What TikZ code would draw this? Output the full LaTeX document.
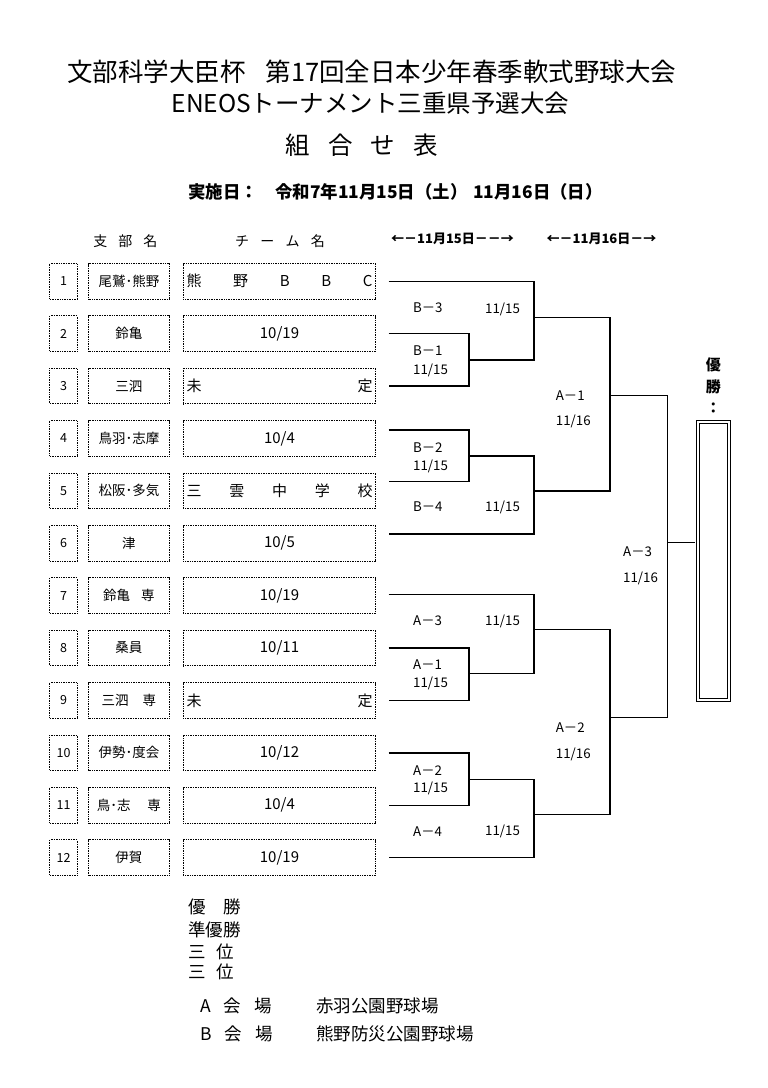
\documentclass[tikz,border=0pt]{standalone}
\usepackage{fontspec}
\setmainfont{Noto Sans CJK JP}
\usetikzlibrary{positioning}

\tikzset{
  feld/.style={draw, dash pattern=on 1pt off 0.7pt, line width=1pt, inner sep=0pt, minimum height=35.5pt},
  nrfeld/.style={feld, minimum width=27.3pt, font=\fontsize{12.5}{13}\selectfont},
  bzfeld/.style={feld, minimum width=80.3pt, font=\fontsize{13.5}{14}\selectfont},
  tmfeld/.style={feld, minimum width=192.4pt, font=\fontsize{15}{16}\selectfont},
  linie/.style={line width=1.3pt},
  spiel/.style={font=\fontsize{13.3}{14}\selectfont, inner sep=0pt, anchor=west},
  titel/.style={font=\fontsize{24.5}{25}\selectfont, inner sep=0pt},
  datum/.style={font=\bfseries\fontsize{17.4}{18}\selectfont, inner sep=0pt},
  kopf/.style={font=\fontsize{14}{14}\selectfont, inner sep=0pt},
  tag/.style={font=\bfseries\fontsize{13}{13}\selectfont, inner sep=0pt},
  fuss/.style={font=\fontsize{17.5}{17.5}\selectfont, inner sep=0pt, anchor=west},
}

\begin{document}
\begin{tikzpicture}[x=1pt,y=-1pt]
    \useasboundingbox (0,0) rectangle (768,1088);

    % Titel
    \node[titel, font=\fontsize{25.5}{26}\selectfont, anchor=west] (titel1) at (67,72) {文部科学大臣杯\hspace{20pt}第17回全日本少年春季軟式野球大会};
    \node[titel] (titel2) at (370.5,103) {ENEOSトーナメント三重県予選大会};
    \node[titel] (titel3) at (361.7,145) {組\hspace{18pt}合\hspace{18pt}せ\hspace{18pt}表};
    \node[datum, anchor=west] (datum1) at (188,191.5) {実施日：};
    \node[datum, anchor=east] (datum2) at (603,191.5) {令和7年11月15日（土）\hspace{6pt}11月16日（日）};

    % Spaltenkoepfe
    \node[kopf] (kopf1) at (125.3,240.7) {\hbox to 64pt{支\hfill 部\hfill 名}};
    \node[kopf] (kopf2) at (280,240.7) {\hbox to 90pt{チ\hfill ー\hfill ム\hfill 名}};
    \node[tag] (tag1) at (452.5,239) {←－11月15日－－→};
    \node[tag] (tag2) at (601.5,239) {←－11月16日－→};

    % Zeilen mit Nummer, Bezirk und Mannschaft
    \foreach \i/\dy/\bz/\tm in {
        1/0/{尾鷲･熊野}/{\hbox to 186pt{熊\hfill 野\hfill B\hfill B\hfill C}},
        2/0/{鈴亀}/{10/19},
        3/0/{三泗}/{\hbox to 186pt{未\hfill 定}},
        4/8.5/{鳥羽･志摩}/{10/4},
        5/9.2/{松阪･多気}/{\hbox to 186pt{三\hfill 雲\hfill 中\hfill 学\hfill 校}},
        6/9.2/{津}/{10/5},
        7/1/{鈴亀\hspace{11pt}専}/{10/19},
        8/0/{桑員}/{10/11},
        9/0/{三泗\hspace{14pt}専}/{\hbox to 186pt{未\hfill 定}},
        10/0/{伊勢･度会}/{10/12},
        11/0/{\hbox to 64pt{鳥･志\hfill 専}}/{10/4},
        12/0/{伊賀}/{10/19}} {
        \pgfmathsetmacro\y{281.25+(\i-1)*52.4}
        \node[nrfeld] (nr\i) at (63.6,\y) {\i};
        \node[bzfeld] (bz\i) at (128.9,\y) {\bz};
        \node[tmfeld] (tm\i) at (279.5,\y) {\tm};
        \coordinate (e\i) at ([xshift=12.3pt,yshift=\dy pt]tm\i.east);
    }

    % Verzweigungspunkte
    \coordinate (B1) at (469,360);
    \coordinate (B2) at (469,456);
    \coordinate (A1) at (469,673.7);
    \coordinate (A2) at (469,779.3);
    \coordinate (B3) at (534,317.7);
    \coordinate (B4) at (534,491);
    \coordinate (A3) at (534,629.7);
    \coordinate (A4) at (534,814.3);
    \coordinate (HF1) at (610,395.7);
    \coordinate (HF2) at (610,717.3);
    \coordinate (F) at (667.7,542.7);

    % Siegerfeld
    \node[draw, line width=1.1pt, double, double distance=1.6pt, minimum width=31.1pt, minimum height=277.9pt, inner sep=0pt] (sieger) at (713.35,560.85) {};
    \node[font=\bfseries\fontsize{15}{21.5}\selectfont, align=center, inner sep=0pt] (siegtext) at (713.3,386) {優\\勝\\：};

    % Turnierbaum
    \draw[linie] (e2) -| (B1) |- (e3);
    \draw[linie] (e4) -| (B2) |- (e5);
    \draw[linie] (e8) -| (A1) |- (e9);
    \draw[linie] (e10) -| (A2) |- (e11);
    \draw[linie] (e1) -| (B3) |- (B1);
    \draw[linie] (B2) -| (B4) |- (e6);
    \draw[linie] (e7) -| (A3) |- (A1);
    \draw[linie] (A2) -| (A4) |- (e12);
    \draw[linie] (B3) -| (HF1) |- (B4);
    \draw[linie] (A3) -| (HF2) |- (A4);
    \draw[linie] (HF1) -| (F) |- (HF2);
    \draw[linie, shorten >=2.2pt] (F) -- (sieger.west |- F);

    % Spielbezeichnungen
    \foreach \n/\x/\y/\t in {
        1/413/308/{B－3}, 2/485/309/{11/15},
        3/413/351/{B－1}, 4/413/370/{11/15},
        5/555.7/396/{A－1}, 6/555.7/421.7/{11/16},
        7/413/447.7/{B－2}, 8/413/466/{11/15},
        9/413/507/{B－4}, 10/485/507/{11/15},
        11/623/551.7/{A－3}, 12/623/578.7/{11/16},
        13/413/621/{A－3}, 14/485/621/{11/15},
        15/413/664.3/{A－1}, 16/413/683.3/{11/15},
        17/555.7/727.3/{A－2}, 18/555.7/754.3/{11/16},
        19/413/770.7/{A－2}, 20/413/788.7/{11/15},
        21/413/831.7/{A－4}, 22/485/831.7/{11/15}} {
        \node[spiel] (s\n) at (\x,\y) {\t};
    }

    % Ergebnisse und Spielorte
    \node[fuss] (f1) at (188,907.3) {\hbox to 53pt{優\hfill 勝}};
    \node[fuss] (f2) at (188,930) {準優勝};
    \node[fuss] (f3) at (188,951.7) {三\hspace{11pt}位};
    \node[fuss] (f4) at (188,971.7) {三\hspace{11pt}位};
    \node[fuss] (f5) at (200,1006) {A\hspace{13pt}会\hspace{13pt}場};
    \node[fuss] (f6) at (200,1034) {B\hspace{13pt}会\hspace{13pt}場};
    \node[fuss] (f7) at (316,1006) {赤羽公園野球場};
    \node[fuss] (f8) at (316,1034) {熊野防災公園野球場};
\end{tikzpicture}
\end{document}
